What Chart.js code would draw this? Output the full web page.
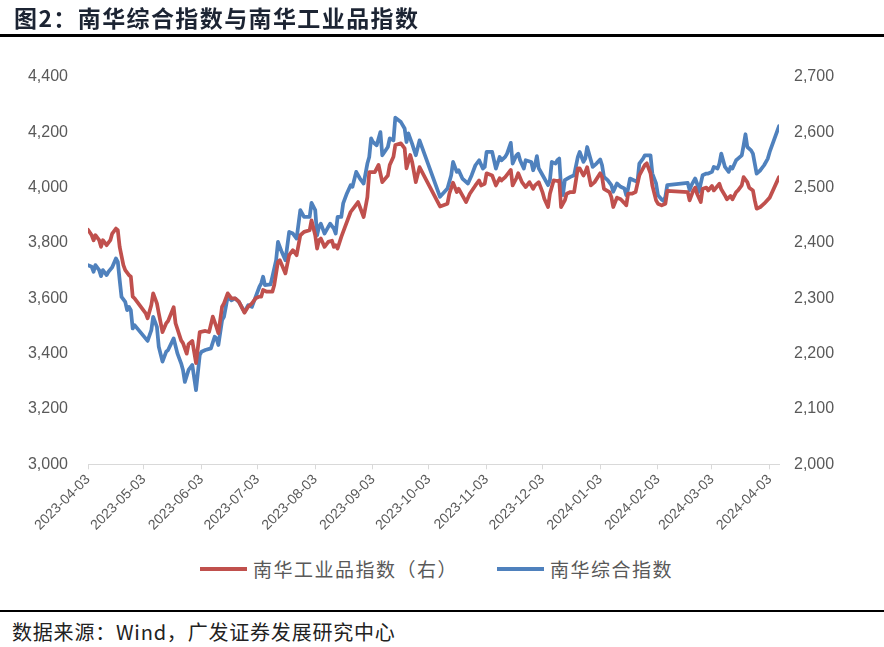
<!DOCTYPE html>
<html>
<head>
<meta charset="utf-8">
<script src="https://cdn.jsdelivr.net/npm/chart.js@4.4.1/dist/chart.umd.min.js"></script>
<style>
  html,body{margin:0;padding:0;background:#fff;}
  body{width:884px;height:647px;position:relative;overflow:hidden;}
  .ttl{position:absolute;left:14px;top:5px;font:bold 23px/25px "Noto Sans CJK SC",sans-serif;letter-spacing:1.4px;color:#1c2433;z-index:2;white-space:nowrap;}
  .rule{position:absolute;left:0;width:884px;background:#000;z-index:2;}
  .src{position:absolute;left:12px;top:622px;font:20px/20px "Noto Sans CJK SC",sans-serif;letter-spacing:0.8px;color:#222;white-space:nowrap;}
  #wrap{position:absolute;left:0;top:0;}
  .lg{position:absolute;top:557px;height:24px;font:19px/24px "Noto Sans CJK SC",sans-serif;letter-spacing:1.5px;color:#595959;white-space:nowrap;}
  .lg i{position:absolute;left:0;top:10px;width:47px;height:4px;}
  .lg span{position:absolute;left:53px;top:0;}
</style>
</head>
<body>
<div class="ttl">图2：南华综合指数与南华工业品指数</div>
<div class="rule" style="top:34px;height:3px"></div>
<div id="wrap"><canvas id="chart" width="884" height="540"></canvas></div>
<div id="legend"></div>
<div class="rule" style="top:610px;height:2px"></div>
<div class="src">数据来源：Wind，广发证券发展研究中心</div>

<script>
// x = day offset from 2023-04-03
const xTickDays   = [0, 30, 61, 91, 122, 153, 183, 214, 244, 275, 306, 335, 366];
const xTickLabels = ['2023-04-03','2023-05-03','2023-06-03','2023-07-03','2023-08-03','2023-09-03',
                     '2023-10-03','2023-11-03','2023-12-03','2024-01-03','2024-02-03','2024-03-03','2024-04-03'];

// 南华工业品指数（右）
const indDays = [0,2,3,4,6,7,8,10,12,13,15,16,17,19,20,22,23,24,25,31,32,34,35,37,38,40,42,43,46,47,
  50,51,53,54,56,58,60,63,65,67,69,70,72,73,75,77,79,81,84,86,88,90,92,93,94,96,99,100,102,103,
  106,108,110,112,114,116,119,120,122,123,124,125,127,129,131,132,133,134,136,138,141,143,145,146,148,150,151,154,156,158,
  161,162,164,165,168,170,171,173,174,176,178,189,193,194,196,198,199,201,203,205,208,210,211,213,214,217,219,221,222,224,
  227,228,230,231,233,235,237,239,240,242,244,245,247,248,250,252,253,254,256,257,259,261,263,264,266,267,268,270,272,275,
  276,277,280,281,282,284,286,288,289,290,292,294,296,298,299,300,302,303,305,306,308,310,311,322,323,325,326,327,329,330,
  332,333,335,336,338,339,340,342,343,345,346,348,349,351,352,354,355,357,358,359,361,363,366,371];
const indVals = [2424,2414,2405,2414,2405,2393,2405,2396,2405,2417,2426,2423,2393,2360,2351,2342,2339,2303,2300,2273,
  2264,2288,2309,2291,2273,2239,2255,2259,2284,2255,2224,2219,2200,2217,2223,2183,2239,2241,2239,2267,
  2248,2237,2285,2291,2309,2300,2300,2294,2274,2285,2291,2300,2303,2303,2315,2312,2312,2324,2366,2369,
  2345,2378,2387,2378,2414,2420,2423,2441,2414,2390,2405,2408,2393,2402,2404,2393,2396,2390,2411,2429,
  2456,2465,2474,2465,2447,2483,2528,2528,2541,2510,2522,2541,2556,2577,2580,2571,2535,2559,2547,2510,
  2537,2466,2471,2489,2509,2492,2498,2486,2474,2489,2504,2513,2504,2507,2526,2522,2504,2517,2513,2519,
  2532,2504,2517,2526,2510,2501,2510,2498,2504,2510,2492,2480,2465,2489,2513,2512,2513,2465,2477,2489,
  2492,2492,2535,2535,2522,2528,2537,2504,2510,2526,2519,2498,2492,2483,2465,2482,2479,2472,2468,2489,
  2489,2492,2522,2535,2541,2544,2526,2504,2477,2471,2468,2471,2494,2492,2477,2495,2500,2489,2474,2498,
  2500,2495,2503,2495,2503,2507,2497,2486,2479,2485,2479,2492,2495,2504,2519,2510,2500,2495,2477,2462,
  2465,2471,2482,2519];

// 南华综合指数
const compDays = [0,2,3,4,6,7,8,10,11,13,15,16,17,18,20,21,22,23,24,25,32,34,35,37,38,40,42,43,46,48,
  50,51,52,54,56,58,60,61,63,66,68,69,70,72,73,75,77,79,81,84,86,88,90,92,93,94,95,98,99,101,
  102,104,106,108,110,112,114,116,119,120,122,123,124,125,127,129,130,132,133,134,136,137,139,141,142,144,146,148,150,151,
  152,153,155,157,158,161,162,164,165,168,170,171,172,174,176,178,189,193,195,196,198,199,201,204,206,208,210,212,213,214,
  217,219,221,222,224,225,227,228,230,231,232,234,235,238,239,240,241,242,245,247,248,249,251,252,253,254,255,256,259,261,
  263,264,266,267,268,270,271,273,275,276,277,279,281,282,284,286,288,289,290,291,293,295,296,298,299,302,303,305,306,308,
  309,310,311,322,323,324,326,327,328,330,332,333,335,336,338,339,340,342,344,345,346,348,349,351,352,353,354,356,357,359,
  361,363,365,366,371];
const compVals = [3720,3714,3696,3720,3702,3680,3702,3684,3696,3712,3744,3732,3666,3605,3587,3557,3569,3557,3491,3503,
  3446,3485,3533,3497,3425,3371,3407,3413,3455,3401,3365,3341,3298,3341,3359,3268,3395,3407,3413,3419,
  3461,3455,3431,3521,3533,3605,3593,3600,3587,3551,3575,3569,3605,3641,3654,3678,3648,3650,3678,3738,
  3804,3768,3738,3840,3834,3816,3919,3894,3894,3945,3919,3828,3858,3870,3834,3858,3870,3852,3834,3894,
  3894,3943,3979,4009,4003,4057,4033,4015,4087,4111,4178,4165,4153,4201,4117,4147,4178,4171,4253,4237,
  4214,4165,4196,4159,4117,4171,3967,3997,4045,4093,4057,4063,4033,4015,4045,4081,4099,4069,4075,4129,
  4129,4069,4111,4099,4111,4123,4162,4087,4117,4123,4099,4069,4099,4093,4063,4081,4114,4070,4034,4009,
  4027,4093,4087,4099,4105,4003,3973,4027,4039,4045,4111,4129,4093,4105,4147,4099,4075,4087,4102,4081,
  4039,4027,4009,3985,4015,4003,3997,3973,3997,4033,4027,4021,4087,4105,4117,4117,4051,4015,3973,3957,
  3952,3967,4009,4017,3991,4009,4033,4015,3985,4045,4051,4051,4057,4075,4069,4087,4123,4075,4057,4075,
  4069,4099,4105,4117,4153,4193,4147,4135,4123,4051,4063,4081,4105,4129,4222];

const RED  = '#C0504D';
const BLUE = '#4F81BD';
const AXIS = '#595959';

Chart.defaults.font.family = '"Liberation Sans", Arial, sans-serif';

const pts = (d, v) => d.map((x, i) => ({ x, y: v[i] }));

const chart = new Chart(document.getElementById('chart'), {
  type: 'line',
  data: {
    datasets: [
      { label: '南华工业品指数（右）', data: pts(indDays, indVals), yAxisID: 'yR',
        borderColor: RED, backgroundColor: RED, borderWidth: 3.75, pointRadius: 0, tension: 0,
        borderJoinStyle: 'round', borderCapStyle: 'round' },
      { label: '南华综合指数', data: pts(compDays, compVals), yAxisID: 'yL',
        borderColor: BLUE, backgroundColor: BLUE, borderWidth: 3.75, pointRadius: 0, tension: 0,
        borderJoinStyle: 'round', borderCapStyle: 'round' }
    ]
  },
  options: {
    responsive: false,
    animation: false,
    devicePixelRatio: 1,
    layout: { padding: { left: 0, right: 0, top: 77, bottom: 0 } },
    plugins: { tooltip: { enabled: false }, legend: { display: false } },
    scales: {
      x: {
        type: 'linear', min: 0, max: 371,
        afterBuildTicks: s => { s.ticks = xTickDays.map(v => ({ value: v })); },
        afterFit: s => { s.height = 75.7; },
        ticks: {
          autoSkip: false, minRotation: 45, maxRotation: 45, padding: 2,
          color: AXIS, font: { size: 14 },
          callback: v => xTickLabels[xTickDays.indexOf(v)]
        },
        grid: { drawOnChartArea: false, tickLength: 5, color: '#d9d9d9' },
        border: { color: '#d9d9d9' }
      },
      // tick length (8) still counts with the grid hidden, so paddings are reduced by it
      yL: {
        position: 'left', min: 3000, max: 4400,
        afterFit: s => { s.width = 88; },
        ticks: { stepSize: 200, padding: 12, color: AXIS, font: { size: 16 },
                 callback: v => v.toLocaleString('en-US') },
        grid: { display: false }, border: { display: false }
      },
      yR: {
        position: 'right', min: 2000, max: 2700,
        afterFit: s => { s.width = 105; },
        ticks: { stepSize: 100, padding: 7, color: AXIS, font: { size: 16 },
                 callback: v => v.toLocaleString('en-US') },
        grid: { display: false }, border: { display: false }
      }
    }
  }
});

// legend from the chart's own datasets
const legendX = [200, 497];
document.getElementById('legend').innerHTML = chart.data.datasets.map((ds, i) =>
  `<div class="lg" style="left:${legendX[i]}px"><i style="background:${ds.borderColor}"></i><span>${ds.label}</span></div>`
).join('');
</script>
</body>
</html>
